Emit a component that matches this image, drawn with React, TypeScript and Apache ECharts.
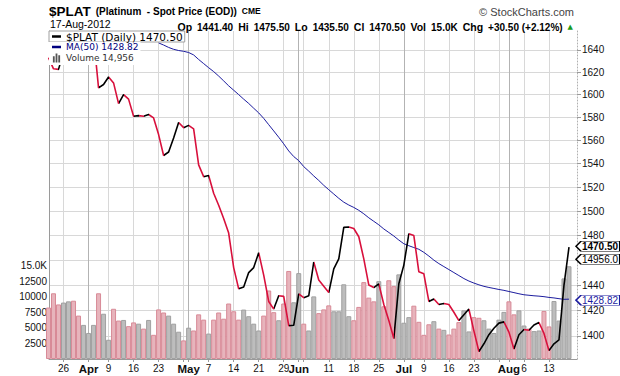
import React, { useEffect, useRef } from 'react';
import * as echarts from 'echarts';

// ---- data ----
const dates = [
  'Mar 21','Mar 22','Mar 23','Mar 26','Mar 27','Mar 28','Mar 29','Mar 30',
  'Apr 2','Apr 3','Apr 4','Apr 5','Apr 9','Apr 10','Apr 11','Apr 12','Apr 13','Apr 16','Apr 17','Apr 18','Apr 19','Apr 20','Apr 23','Apr 24','Apr 25','Apr 26','Apr 27','Apr 30',
  'May 1','May 2','May 3','May 4','May 7','May 8','May 9','May 10','May 11','May 14','May 15','May 16','May 17','May 18','May 21','May 22','May 23','May 24','May 25','May 29','May 30','May 31',
  'Jun 1','Jun 4','Jun 5','Jun 6','Jun 7','Jun 8','Jun 11','Jun 12','Jun 13','Jun 14','Jun 15','Jun 18','Jun 19','Jun 20','Jun 21','Jun 22','Jun 25','Jun 26','Jun 27','Jun 28','Jun 29',
  'Jul 2','Jul 3','Jul 5','Jul 6','Jul 9','Jul 10','Jul 11','Jul 12','Jul 13','Jul 16','Jul 17','Jul 18','Jul 19','Jul 20','Jul 23','Jul 24','Jul 25','Jul 26','Jul 27','Jul 30','Jul 31',
  'Aug 1','Aug 2','Aug 3','Aug 6','Aug 7','Aug 8','Aug 9','Aug 10','Aug 13','Aug 14','Aug 15','Aug 16','Aug 17'
];

const closePrices = [
  1633, 1623, 1622.5, 1638, 1648, 1643, 1637, 1641,
  1646, 1652, 1606, 1609, 1615.7, 1610.4, 1592, 1600, 1596, 1581, 1581.5, 1581, 1582.5, 1579.5, 1565, 1547, 1550, 1562, 1575.5, 1571,
  1573, 1570, 1539, 1529, 1530, 1515, 1505, 1494, 1482, 1454, 1437, 1438.5, 1450, 1454, 1466, 1448, 1427, 1421, 1431.5, 1431, 1408, 1408.3,
  1433, 1430, 1431.5, 1458.5, 1444, 1439, 1434, 1453, 1461, 1486.7, 1487, 1485.8, 1479, 1461, 1440, 1438, 1441, 1424.6, 1412, 1398, 1441,
  1456, 1481.4, 1480, 1450.6, 1449, 1427, 1429, 1424.6, 1425.4, 1424.6, 1418.5, 1412, 1416.6, 1421, 1404, 1388, 1394, 1401, 1406, 1410, 1411,
  1403, 1390, 1401, 1405, 1404.5, 1408.5, 1410.5, 1402, 1388.7, 1394, 1397, 1440, 1470.5
];

const volumes = [
  8300, 10600, 8800, 9100, 9300, 9400, 7000, 5500,
  4200, 5500, 10600, 7300, 3100, 8100, 6200, 6300, 5300, 5900, 5700, 4900, 6300, 3900, 8000, 7500, 7000, 5700, 4400, 3000,
  5050, 4600, 7200, 6350, 4100, 6350, 7500, 6500, 8950, 7700, 6350, 7970, 6900, 5700, 4600, 7000, 11050, 7550, 6250, 8950, 14200, 9150,
  13850, 5700, 4600, 10100, 7400, 8000, 8650, 7700, 7700, 12050, 6900, 6250, 8400, 12400, 9900, 9300, 12550, 8500, 12700, 11750, 13650,
  5850, 6750, 8600, 6000, 3900, 5600, 6100, 4900, 4700, 3950, 4900, 5950, 7850, 4450, 6750, 6650, 6250, 4900, 4200, 6350, 7600,
  9300, 7200, 7850, 5400, 4900, 4500, 4600, 7750, 5250, 9350, 6200, 13000, 14956
];

const maFirstDate = 'Apr 23';
const ma50 = [
  1646.4, 1644.5, 1642.3, 1640.6, 1639.5, 1638.8, 1637.7, 1635.5, 1631.4, 1627.7, 1624.0, 1620.5, 1616.5, 1612.2, 1607.8, 1603.9,
  1600.0, 1596.0, 1592.2, 1588.0, 1583.9, 1579.1, 1573.6, 1568.2, 1562.7, 1557.0, 1550.9, 1546.1, 1542.6, 1537.5, 1533.7, 1529.6,
  1525.8, 1521.7, 1518.0, 1514.4, 1510.8, 1507.6, 1505.2, 1503.2, 1500.8, 1497.9, 1494.6, 1491.7, 1488.8, 1485.4, 1482.5, 1479.6,
  1476.3, 1473.3, 1471.7, 1470.2, 1468.8, 1466.3, 1463.3, 1460.0, 1457.2, 1454.8, 1452.4, 1450.0, 1447.6, 1445.2, 1443.2, 1441.6,
  1440.2, 1439.0, 1438.1, 1437.3, 1436.5, 1435.8, 1434.9, 1434.0, 1433.1, 1432.3, 1431.9, 1431.5, 1431.2, 1430.8, 1430.2, 1429.8,
  1429.2, 1428.7, 1428.82
];

const priceTicks = [1400, 1420, 1440, 1460, 1480, 1500, 1520, 1540, 1560, 1580, 1600, 1620, 1640];
const volumeTicks = [2500, 5000, 7500, 10000, 12500, 15000];

const xLabelDates = ['Mar 26','Apr 2','Apr 9','Apr 16','Apr 23','May 1','May 7','May 14','May 21','May 29','Jun 1','Jun 11','Jun 18','Jun 25','Jul 2','Jul 9','Jul 16','Jul 23','Aug 1','Aug 6','Aug 13'];
const xLabelTexts = ['26','Apr','9','16','23','May','7','14','21','29','Jun','11','18','25','Jul','9','16','23','Aug','6','13'];
const weekStartDates = ['Mar 26','Apr 2','Apr 9','Apr 16','Apr 23','Apr 30','May 7','May 14','May 21','May 29','Jun 4','Jun 11','Jun 18','Jun 25','Jul 2','Jul 9','Jul 16','Jul 23','Jul 30','Aug 6','Aug 13'];
const monthStartDates = ['Apr 2','May 1','Jun 1','Jul 2','Aug 1'];

const header = {
  symbol: '$PLAT', desc: '(Platinum  - Spot Price (EOD))', exch: 'CME', date: '17-Aug-2012',
  op: '1441.40', hi: '1475.50', lo: '1435.50', cl: '1470.50', vol: '15.0K', chg: '+30.50 (+2.12%)'
};

const RED = '#d8103c';
const BLACK = '#000000';
const NAVY = '#1c1c9e';
const TAG = 'path://M0,5L5,0L44,0L44,10L5,10Z';
const AXIS_FONT = 'Liberation Sans, Arial, sans-serif';

export default function App() {
  const ref = useRef<HTMLDivElement>(null);

  useEffect(() => {
    if (!ref.current) return;
    const chart = echarts.init(ref.current, undefined, { renderer: 'svg' });

    const idx = (d: string) => dates.indexOf(d);
    const last = closePrices.length - 1;
    const pricePts = closePrices.map((c, i) => [i, c]);
    const maStart = idx(maFirstDate);
    const maPts = ma50.map((v, k) => [maStart + k, v]);
    const isDown = (i: number) => i === 0 ? true : closePrices[i] < closePrices[i - 1];
    const volData = volumes.map((v, i) => ({
      value: [i, v],
      itemStyle: isDown(i)
        ? { color: '#e7b4bc', borderColor: '#d88a97' }
        : { color: '#bdbdbd', borderColor: '#a0a0a0' }
    }));
    const pieces = closePrices.slice(1).map((c, k) => ({
      gt: k, lte: k + 1, color: c < closePrices[k] ? RED : BLACK
    }));
    const labelMap: Record<number, string> = {};
    xLabelDates.forEach((d, k) => { labelMap[idx(d)] = xLabelTexts[k]; });
    const monthIdx = monthStartDates.map(idx);
    const tickIdx = Array.from(new Set([...weekStartDates.map(idx), ...monthIdx])).sort((a, b) => a - b);

    const legendFmt = (name: string) => {
      if (name === 'MA(50)') return `${name} ${ma50[ma50.length - 1].toFixed(2)}`;
      if (name === 'Volume') return `${name} ${volumes[last].toLocaleString('en-US')}`;
      return `${name} ${closePrices[last].toFixed(2)}`;
    };

    const boxLabel = (text: string, color: string, bold: boolean) => ({
      show: true, position: 'inside', offset: [2, 0], color, fontSize: 10, lineHeight: 10,
      fontWeight: bold ? 'bold' : 'normal', fontFamily: AXIS_FONT, formatter: () => text
    });

    const option: any = {
      animation: false,
      backgroundColor: '#ffffff',
      title: [
        {
          left: 49, top: 2, padding: 0,
          text: `{t|${header.symbol}} {s|${header.desc}} {c|${header.exch}}`,
          textStyle: {
            rich: {
              t: { fontFamily: AXIS_FONT, fontSize: 13.5, lineHeight: 14, fontWeight: 'bold', color: '#000' },
              s: { fontFamily: AXIS_FONT, fontSize: 10, lineHeight: 14, color: '#000' },
              c: { fontFamily: AXIS_FONT, fontSize: 8.5, lineHeight: 14, color: '#000' }
            }
          }
        },
        {
          right: 46, top: 6, padding: 0, text: '© StockCharts.com',
          textStyle: { fontFamily: AXIS_FONT, fontSize: 11, lineHeight: 12, fontWeight: 'normal', color: '#444' }
        },
        {
          left: 50, top: 18, padding: 0, text: header.date,
          textStyle: { fontFamily: AXIS_FONT, fontSize: 10.5, lineHeight: 11, fontWeight: 'normal', color: '#000' }
        },
        {
          right: 47, top: 18, padding: 0,
          text: `{b|Op} {v|${header.op}} {b|Hi} {v|${header.hi}} {b|Lo} {v|${header.lo}} {b|Cl} {v|${header.cl}} {b|Vol} {v|${header.vol}} {b|Chg} {v|${header.chg}} {u|▲}`,
          textStyle: {
            rich: {
              b: { fontFamily: AXIS_FONT, fontSize: 10.5, fontWeight: 'bold', color: '#000', lineHeight: 11 },
              v: { fontFamily: AXIS_FONT, fontSize: 10, color: '#000', lineHeight: 11 },
              u: { fontFamily: 'DejaVu Sans', fontSize: 7, color: '#1a9a1a', lineHeight: 11 }
            }
          }
        }
      ],
      legend: [
        {
          left: 49, top: 31, orient: 'horizontal', selectedMode: false, z: 20,
          data: [{ name: '$PLAT (Daily)', icon: 'rect', itemStyle: { color: '#000' } }],
          itemWidth: 9, itemHeight: 2.5, itemGap: 0, padding: [0, 2, 0, 3],
          backgroundColor: '#fff', borderColor: '#a0a0a0', borderWidth: 1,
          formatter: legendFmt,
          textStyle: { fontFamily: 'DejaVu Sans', fontSize: 10.5, lineHeight: 10, color: '#000' }
        },
        {
          left: 49, top: 42, orient: 'vertical', selectedMode: false, z: 20,
          symbolKeepAspect: true,
          data: [
            { name: 'MA(50)', icon: 'path://M0,0h9v2.5h-9z', itemStyle: { color: '#000080' }, textStyle: { color: '#000080' } },
            { name: 'Volume', icon: 'path://M0,3h2v7h-2z M3,0h2v10h-2z M6,2h2v8h-2z', itemStyle: { color: '#555' }, textStyle: { color: '#333' } }
          ],
          itemWidth: 9, itemHeight: 9, itemGap: 1, padding: [0, 2, 2, 3],
          backgroundColor: '#fff', borderWidth: 0,
          formatter: legendFmt,
          textStyle: { fontFamily: 'DejaVu Sans', fontSize: 9, lineHeight: 10 }
        }
      ],
      grid: { left: 49, right: 43, top: 31, bottom: 17, outerBoundsMode: 'none' },
      xAxis: [
        {
          type: 'value', min: 0.1, max: 105.6, position: 'bottom',
          axisLine: { show: true, onZero: false, lineStyle: { color: '#9a9a9a', width: 1 } },
          axisTick: { show: true, length: 3, customValues: tickIdx, lineStyle: { color: '#9a9a9a' } },
          splitLine: { show: true, lineStyle: { color: '#d8d8d8', width: 1 } },
          axisLabel: {
            customValues: xLabelDates.map(idx), margin: 4, hideOverlap: false,
            fontFamily: AXIS_FONT, fontSize: 10, color: '#111',
            formatter: (v: number) => {
              const t = labelMap[Math.round(v)] ?? '';
              return monthIdx.includes(Math.round(v)) ? `{b|${t}}` : t;
            },
            rich: { b: { fontFamily: AXIS_FONT, fontSize: 11.5, fontWeight: 'bold', color: '#111' } }
          }
        },
        {
          type: 'value', min: 0.1, max: 105.6, position: 'top',
          axisLine: { show: false }, axisLabel: { show: false },
          axisTick: { show: false, customValues: monthIdx },
          splitLine: { show: true, lineStyle: { color: '#b3b3b3', width: 1 } }
        }
      ],
      yAxis: [
        {
          type: 'log', logBase: 10, position: 'right', min: 1382.3, max: 1657.3,
          axisLine: { show: true, lineStyle: { color: '#b0b0b0', type: [1, 2] } },
          axisTick: { show: true, length: 4, customValues: priceTicks, lineStyle: { color: '#9a9a9a' } },
          splitLine: { show: true, lineStyle: { color: '#d8d8d8', width: 1 } },
          axisLabel: {
            customValues: priceTicks, margin: 5, fontFamily: AXIS_FONT, fontSize: 10, color: '#111',
            formatter: (v: number) => String(Math.round(v))
          }
        },
        {
          type: 'value', position: 'left', min: 0, max: 52900,
          axisLine: { show: true, lineStyle: { color: '#9a9a9a' } },
          axisTick: { show: false, customValues: volumeTicks },
          splitLine: { show: false },
          axisLabel: {
            customValues: volumeTicks, margin: 2, fontFamily: AXIS_FONT, fontSize: 10, color: '#111',
            formatter: (v: number) => (v >= 15000 ? `${(v / 1000).toFixed(1)}K` : String(v))
          }
        }
      ],
      visualMap: {
        show: false, type: 'piecewise', seriesIndex: 1, dimension: 0,
        pieces, outOfRange: { color: BLACK }
      },
      series: [
        {
          name: 'Volume', type: 'bar', xAxisIndex: 0, yAxisIndex: 1, barWidth: 5,
          data: volData, clip: true, z: 1,
          itemStyle: { borderWidth: 1 },
          markPoint: {
            silent: true, symbol: TAG, symbolSize: [44, 10], symbolOffset: [29, -7],
            itemStyle: { color: '#fff', borderColor: '#000', borderWidth: 1 },
            label: boxLabel(volumes[last].toFixed(1), '#000', false),
            data: [{ coord: [last, volumes[last]] }]
          }
        },
        {
          name: '$PLAT (Daily)', type: 'line', xAxisIndex: 0, yAxisIndex: 0,
          data: pricePts, showSymbol: false, clip: true, z: 3,
          lineStyle: { width: 1.6 },
          markPoint: {
            silent: true, symbol: TAG, symbolSize: [44, 10], symbolOffset: [29, -1],
            itemStyle: { color: '#fff', borderColor: '#000', borderWidth: 1 },
            label: boxLabel(closePrices[last].toFixed(2), '#000', true),
            data: [{ coord: [last, closePrices[last]] }]
          }
        },
        {
          name: 'MA(50)', type: 'line', xAxisIndex: 0, yAxisIndex: 0,
          data: maPts, showSymbol: false, clip: true, z: 2,
          lineStyle: { width: 1, color: NAVY }, itemStyle: { color: NAVY },
          markPoint: {
            silent: true, symbol: TAG, symbolSize: [44, 10], symbolOffset: [29, 1],
            itemStyle: { color: '#fff', borderColor: NAVY, borderWidth: 1 },
            label: boxLabel(ma50[ma50.length - 1].toFixed(2), NAVY, false),
            data: [{ coord: [last, ma50[ma50.length - 1]] }]
          }
        }
      ]
    };

    chart.setOption(option);
    return () => chart.dispose();
  }, []);

  return <div ref={ref} style={{ width: 620, height: 376, position: 'absolute', left: 0, top: 0 }} />;
}
